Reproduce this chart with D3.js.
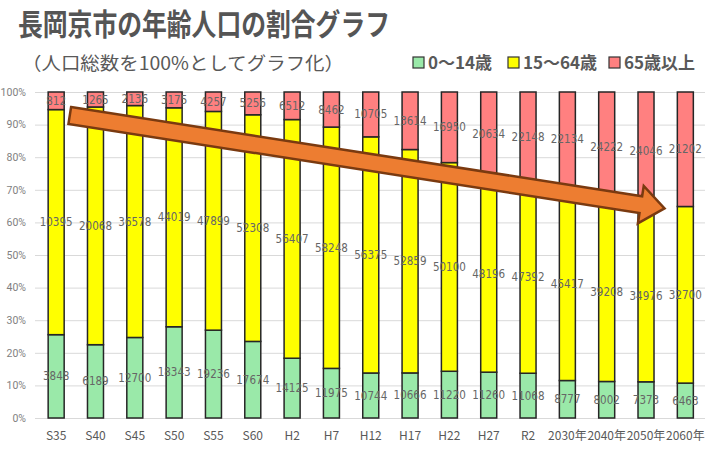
<!DOCTYPE html>
<html>
<head>
<meta charset="utf-8">
<script src="https://cdn.jsdelivr.net/npm/d3@7"></script>
<style>
	html, body { margin: 0; padding: 0; background: #fff; }
	svg { display: block; font-family: "Noto Sans CJK JP", "Noto Sans", sans-serif; }
</style>
</head>
<body>
<svg id="chart" width="713" height="455"></svg>
<script>
'use strict';

// 年次
var categories = ['S35', 'S40', 'S45', 'S50', 'S55', 'S60', 'H2', 'H7', 'H12',
	'H17', 'H22', 'H27', 'R2', '2030年', '2040年', '2050年', '2060年'];

// 年齢3区分別人口
var young = [3848, 6189, 12700, 18343, 19236, 17674, 14125, 11975, 10744,
	10666, 11220, 11260, 11068, 8777, 8002, 7373, 6463];
var working = [10395, 20068, 36578, 44019, 47899, 52308, 56407, 58248, 56375,
	52859, 50100, 48196, 47392, 45417, 39208, 34976, 32700];
var elderly = [812, 1265, 2136, 3175, 4257, 5256, 6512, 8462, 10705,
	13614, 16950, 20634, 22148, 22134, 24222, 24046, 21202];

var seriesKeys = ['young', 'working', 'elderly'];
var seriesNames = ['0～14歳', '15～64歳', '65歳以上'];
var yTicks = [0, 0.1, 0.2, 0.3, 0.4, 0.5, 0.6, 0.7, 0.8, 0.9, 1];

// 矢印 (年次, 割合)
var arrowFrom = ['S35', 0.928];
var arrowTo = ['2060年', 0.643];

var title = '長岡京市の年齢人口の割合グラフ';
var subtitle = '（人口総数を100%としてグラフ化）';

var colors = { young: '#9ae9a9', working: '#ffff00', elderly: '#ff8080' };
var textColor = '#595959';

var svg = d3.select('#chart');

var rows = categories.map(function(c, i) {
	return { cat: c, young: young[i], working: working[i], elderly: elderly[i] };
});

var stack = d3.stack()
	.keys(seriesKeys)
	.offset(d3.stackOffsetExpand);
var stacked = stack(rows);

var x = d3.scaleBand()
	.domain(categories)
	.range([36.5, 705])
	.paddingInner(0.593)
	.paddingOuter(0.2965);

var y = d3.scaleLinear()
	.domain([0, 1])
	.range([418, 92]);

// 見出し
svg.append('text')
	.attr('x', 18)
	.attr('y', 35)
	.attr('font-size', 30)
	.attr('font-weight', 'bold')
	.attr('fill', '#555')
	.attr('textLength', 372)
	.attr('lengthAdjust', 'spacingAndGlyphs')
	.text(title);

svg.append('text')
	.attr('x', 22)
	.attr('y', 70)
	.attr('font-size', 18)
	.attr('fill', textColor)
	.attr('textLength', 322)
	.attr('lengthAdjust', 'spacingAndGlyphs')
	.text(subtitle);

// 凡例
var legendX = [413, 508, 609];
var legend = svg.append('g')
	.selectAll('g')
	.data(seriesKeys)
	.join('g')
	.attr('transform', function(d, i) { return 'translate(' + legendX[i] + ',57)'; });

legend.append('rect')
	.attr('width', 11)
	.attr('height', 11)
	.attr('fill', function(d) { return colors[d]; })
	.attr('stroke', '#333')
	.attr('stroke-width', 1.2);

legend.append('text')
	.attr('x', 15)
	.attr('y', 12)
	.attr('font-size', 17)
	.attr('font-weight', 'bold')
	.attr('fill', textColor)
	.text(function(d, i) { return seriesNames[i]; });

// 目盛線
svg.append('g')
	.selectAll('line')
	.data(yTicks)
	.join('line')
	.attr('x1', 35)
	.attr('x2', 705)
	.attr('y1', function(d) { return y(d) + 0.5; })
	.attr('y2', function(d) { return y(d) + 0.5; })
	.attr('stroke', '#d9d9d9')
	.attr('stroke-width', 1);

var yAxis = svg.append('g')
	.attr('transform', 'translate(26,0)')
	.call(d3.axisLeft(y)
		.tickValues(yTicks)
		.tickFormat(d3.format('.0%'))
		.tickSize(0)
		.tickPadding(0));
yAxis.select('.domain').remove();
yAxis.selectAll('text')
	.attr('font-size', 10.5)
	.attr('fill', '#7f7f7f')
	.attr('font-family', 'Roboto, "Noto Sans", sans-serif');

var xAxis = svg.append('g')
	.attr('transform', 'translate(0,' + y(0) + ')')
	.call(d3.axisBottom(x).tickSize(0).tickPadding(13));
xAxis.select('.domain').remove();
xAxis.selectAll('text')
	.attr('font-size', 12)
	.attr('fill', textColor)
	.attr('font-family', '"Noto Sans CJK JP", sans-serif');

// 棒
var layers = svg.append('g')
	.selectAll('g')
	.data(stacked)
	.join('g')
	.attr('fill', function(d) { return colors[d.key]; });

layers.selectAll('rect')
	.data(function(d) { return d; })
	.join('rect')
	.attr('x', function(d) { return x(d.data.cat); })
	.attr('y', function(d) { return y(d[1]); })
	.attr('width', x.bandwidth())
	.attr('height', function(d) { return y(d[0]) - y(d[1]); })
	.attr('stroke', '#262626')
	.attr('stroke-width', 1.5);

// データラベル
svg.append('g')
	.selectAll('g')
	.data(stacked)
	.join('g')
	.selectAll('text')
	.data(function(layer) {
		return layer.map(function(d) { return { seg: d, key: layer.key }; });
	})
	.join('text')
	.attr('x', function(d) { return x(d.seg.data.cat) + x.bandwidth() / 2; })
	.attr('y', function(d) { return y((d.seg[0] + d.seg[1]) / 2); })
	.attr('dy', '0.35em')
	.attr('text-anchor', 'middle')
	.attr('font-size', 11.5)
	.attr('fill', '#666')
	.attr('font-family', '"DejaVu Sans", sans-serif')
	.attr('textLength', function(d) { return String(d.seg.data[d.key]).length * 6.6; })
	.attr('lengthAdjust', 'spacingAndGlyphs')
	.text(function(d) { return d.seg.data[d.key]; });

// 矢印
var x0 = x(arrowFrom[0]) + x.bandwidth() * 1.35;
var y0 = y(arrowFrom[1]);
var x1 = x(arrowTo[0]) - x.bandwidth() * 0.8;
var y1 = y(arrowTo[1]);
var len = Math.hypot(x1 - x0, y1 - y0);
var angle = Math.atan2(y1 - y0, x1 - x0) * 180 / Math.PI;
var bodyHalf = 8.5;
var headHalf = 19;
var headLen = 24;

var arrowPath = d3.path();
arrowPath.moveTo(0, -bodyHalf);
arrowPath.lineTo(len - headLen, -bodyHalf);
arrowPath.lineTo(len - headLen, -headHalf);
arrowPath.lineTo(len, 0);
arrowPath.lineTo(len - headLen, headHalf);
arrowPath.lineTo(len - headLen, bodyHalf);
arrowPath.lineTo(0, bodyHalf);
arrowPath.closePath();

svg.append('path')
	.attr('d', arrowPath.toString())
	.attr('transform', 'translate(' + x0 + ',' + y0 + ') rotate(' + angle + ')')
	.attr('fill', '#ed7d31')
	.attr('stroke', '#7a3a10')
	.attr('stroke-width', 2.5)
	.attr('stroke-linejoin', 'miter');
</script>
</body>
</html>
